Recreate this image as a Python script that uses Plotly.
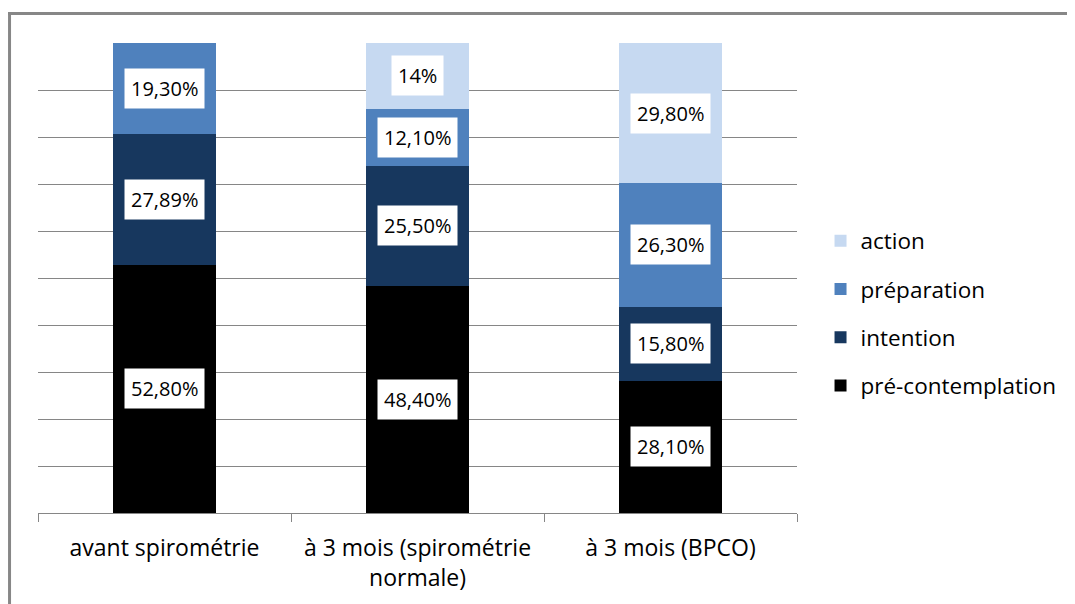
import plotly.graph_objects as go

categories = ["avant spirométrie", "à 3 mois (spirométrie<br>normale)", "à 3 mois (BPCO)"]
series_names = ["pré-contemplation", "intention", "préparation", "action"]
precontemplation = [52.80, 48.40, 28.10]
intention = [27.89, 25.50, 15.80]
preparation = [19.30, 12.10, 26.30]
action = [0, 14, 29.80]
labels_pre = ["52,80%", "48,40%", "28,10%"]
labels_int = ["27,89%", "25,50%", "15,80%"]
labels_prep = ["19,30%", "12,10%", "26,30%"]
labels_act = ["", "14%", "29,80%"]
colors = ["#000000", "#17375E", "#4F81BD", "#C6D9F1"]

values = [precontemplation, intention, preparation, action]
labels = [labels_pre, labels_int, labels_prep, labels_act]

FONT = "Open Sans, sans-serif"
fig = go.Figure()
for i, (name, vals, col) in enumerate(zip(series_names, values, colors)):
    fig.add_trace(go.Bar(x=categories, y=vals, name=name, marker_color=col,
                         marker_line_width=0, legendgroup=name, legendrank=10 - i))

annotations = []
base = [0, 0, 0]
for vals, labs in zip(values, labels):
    for j, (v, lab) in enumerate(zip(vals, labs)):
        if lab:
            annotations.append(dict(x=categories[j], y=base[j] + v / 2, xref="x", yref="y",
                                    text=lab, showarrow=False, bgcolor="white",
                                    borderpad=6, font=dict(size=20, color="black", family=FONT)))
        base[j] += v

fig.update_layout(
    width=1067, height=596,
    margin=dict(l=30, r=278, t=35, b=91),
    barmode="stack", bargap=0.596,
    plot_bgcolor="white", paper_bgcolor="white",
    font=dict(family=FONT, color="black"),
    annotations=annotations,
    showlegend=True,
    legend=dict(x=1.031, y=0.4255, xanchor="left", yanchor="middle",
                traceorder="grouped", tracegroupgap=16,
                font=dict(size=22.5, family=FONT, color="black"),
                itemwidth=30, bgcolor="rgba(0,0,0,0)"),
    xaxis=dict(showline=True, linecolor="#868686", linewidth=1, ticks="outside",
               tickson="boundaries", ticklen=8, tickcolor="#868686",
               ticklabelstandoff=14,
               tickfont=dict(size=23, family=FONT, color="black")),
    yaxis=dict(range=[0, 100], dtick=10, showticklabels=False, showgrid=True,
               gridcolor="#868686", gridwidth=1, zeroline=False),
    shapes=[
        dict(type="line", xref="paper", yref="paper", x0=-0.0375, x1=-0.0375, y0=-0.3, y1=1.0649,
             line=dict(color="#878787", width=3)),
        dict(type="line", xref="paper", yref="paper", x0=-0.0395, x1=1.5, y0=1.0628, y1=1.0628,
             line=dict(color="#878787", width=3)),
    ],
)
fig.write_html("out.html")
